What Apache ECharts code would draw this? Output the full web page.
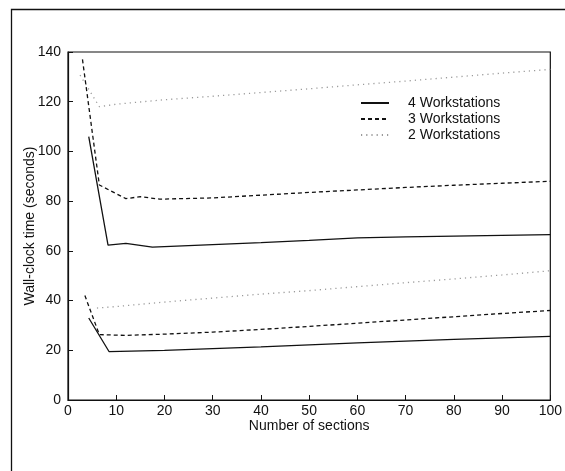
<!DOCTYPE html>
<html>
<head>
<meta charset="utf-8">
<script src="https://cdn.jsdelivr.net/npm/echarts@6/dist/echarts.min.js"></script>
<style>
html,body{margin:0;padding:0;background:#fff;}
#chart{width:565px;height:471px;}
</style>
</head>
<body>
<div id="chart"></div>
<script>
var xTicks = [0, 10, 20, 30, 40, 50, 60, 70, 80, 90, 100];
var yTicks = [0, 20, 40, 60, 80, 100, 120, 140];
var seriesNames = ['4 Workstations', '3 Workstations', '2 Workstations'];

var ws4Upper = [[4.3,106],[8.3,62.3],[12,63],[17.5,61.5],[20,61.7],[30,62.5],[40,63.3],[50,64.2],[60,65.2],[70,65.6],[80,65.9],[90,66.2],[100,66.5]];
var ws4Lower = [[4.3,33],[8.5,19.5],[20,20],[30,20.7],[40,21.4],[50,22.2],[60,23],[70,23.7],[80,24.4],[90,25],[100,25.6]];
var ws3Upper = [[3,137],[6.5,86.5],[12,81],[15,81.8],[19,80.8],[30,81.3],[40,82.4],[50,83.5],[60,84.5],[70,85.5],[80,86.4],[90,87.2],[100,88]];
var ws3Lower = [[3.5,42],[6.5,26.3],[12,26],[20,26.5],[30,27.3],[40,28.4],[50,29.6],[60,30.9],[70,32.2],[80,33.5],[90,34.8],[100,36]];
var ws2Upper = [[2.5,130.7],[6.5,118],[10,119],[20,120.8],[30,122.2],[40,123.7],[50,125.2],[60,126.8],[70,128.3],[80,129.9],[90,131.5],[100,133]];
var ws2Lower = [[6,37],[10,37.6],[20,39.4],[30,41],[40,42.6],[50,44],[60,45.6],[70,47.2],[80,48.7],[90,50.3],[100,52]];

var styles = [
  {color:'#111', type:'solid', width:1.3},
  {color:'#111', type:[4,3], width:1.3},
  {color:'#9a9a9a', type:[1.2,4], width:1.3}
];

function mk(name, data, idx) {
  return {
    name: name, type: 'line', data: data, symbol: 'none', silent: true,
    lineStyle: {color: styles[idx].color, type: styles[idx].type, width: styles[idx].width},
    itemStyle: {color: styles[idx].color},
    animation: false
  };
}

var FONT = 'Liberation Sans, Arial, sans-serif';
var FS = 14;
var chart = echarts.init(document.getElementById('chart'));
chart.setOption({
  animation: false,
  textStyle: {fontFamily: FONT, color: '#111'},
  grid: {left: 68, top: 52, right: 14, bottom: 71, show: true, borderColor: '#111', borderWidth: 1.2, backgroundColor: 'transparent'},
  graphic: [{
    type: 'rect', shape: {x: 11.5, y: 9.5, width: 700, height: 600},
    style: {fill: 'none', stroke: '#111', lineWidth: 1.3}, silent: true
  }],
  legend: {
    data: seriesNames, orient: 'vertical', left: 355, top: 91,
    itemWidth: 28, itemHeight: 14, itemGap: 2,
    itemStyle: {opacity: 0, borderWidth: 0},
    textStyle: {fontSize: FS, color: '#111', fontFamily: FONT, padding: [0, 0, 0, 14]},
    selectedMode: false
  },
  xAxis: {
    type: 'value', min: 0, max: 100, interval: 10,
    name: 'Number of sections', nameLocation: 'middle', nameGap: 19, nameMoveOverlap: false,
    nameTextStyle: {fontSize: FS, color: '#111', fontFamily: FONT, verticalAlign: 'top'},
    axisLine: {lineStyle: {color: '#111', width: 1.2}},
    axisTick: {inside: true, length: 5, lineStyle: {color: '#111'}},
    axisLabel: {fontSize: FS, color: '#111', margin: 4, fontFamily: FONT,
      formatter: function(v){ return xTicks.indexOf(v) >= 0 ? String(v) : ''; }},
    splitLine: {show: false}
  },
  yAxis: {
    type: 'value', min: 0, max: 140, interval: 20,
    name: 'Wall-clock time (seconds)', nameLocation: 'middle', nameGap: 31, nameRotate: 90, nameMoveOverlap: false,
    nameTextStyle: {fontSize: FS, color: '#111', fontFamily: FONT},
    axisLine: {show: true, lineStyle: {color: '#111', width: 1.2}},
    axisTick: {show: true, inside: true, length: 5, lineStyle: {color: '#111'}},
    axisLabel: {fontSize: FS, color: '#111', margin: 7, fontFamily: FONT,
      formatter: function(v){ return yTicks.indexOf(v) >= 0 ? String(v) : ''; }},
    splitLine: {show: false}
  },
  series: [
    mk(seriesNames[0], ws4Upper, 0),
    mk(seriesNames[1], ws3Upper, 1),
    mk(seriesNames[2], ws2Upper, 2),
    mk(seriesNames[0], ws4Lower, 0),
    mk(seriesNames[1], ws3Lower, 1),
    mk(seriesNames[2], ws2Lower, 2)
  ]
});
</script>
</body>
</html>
